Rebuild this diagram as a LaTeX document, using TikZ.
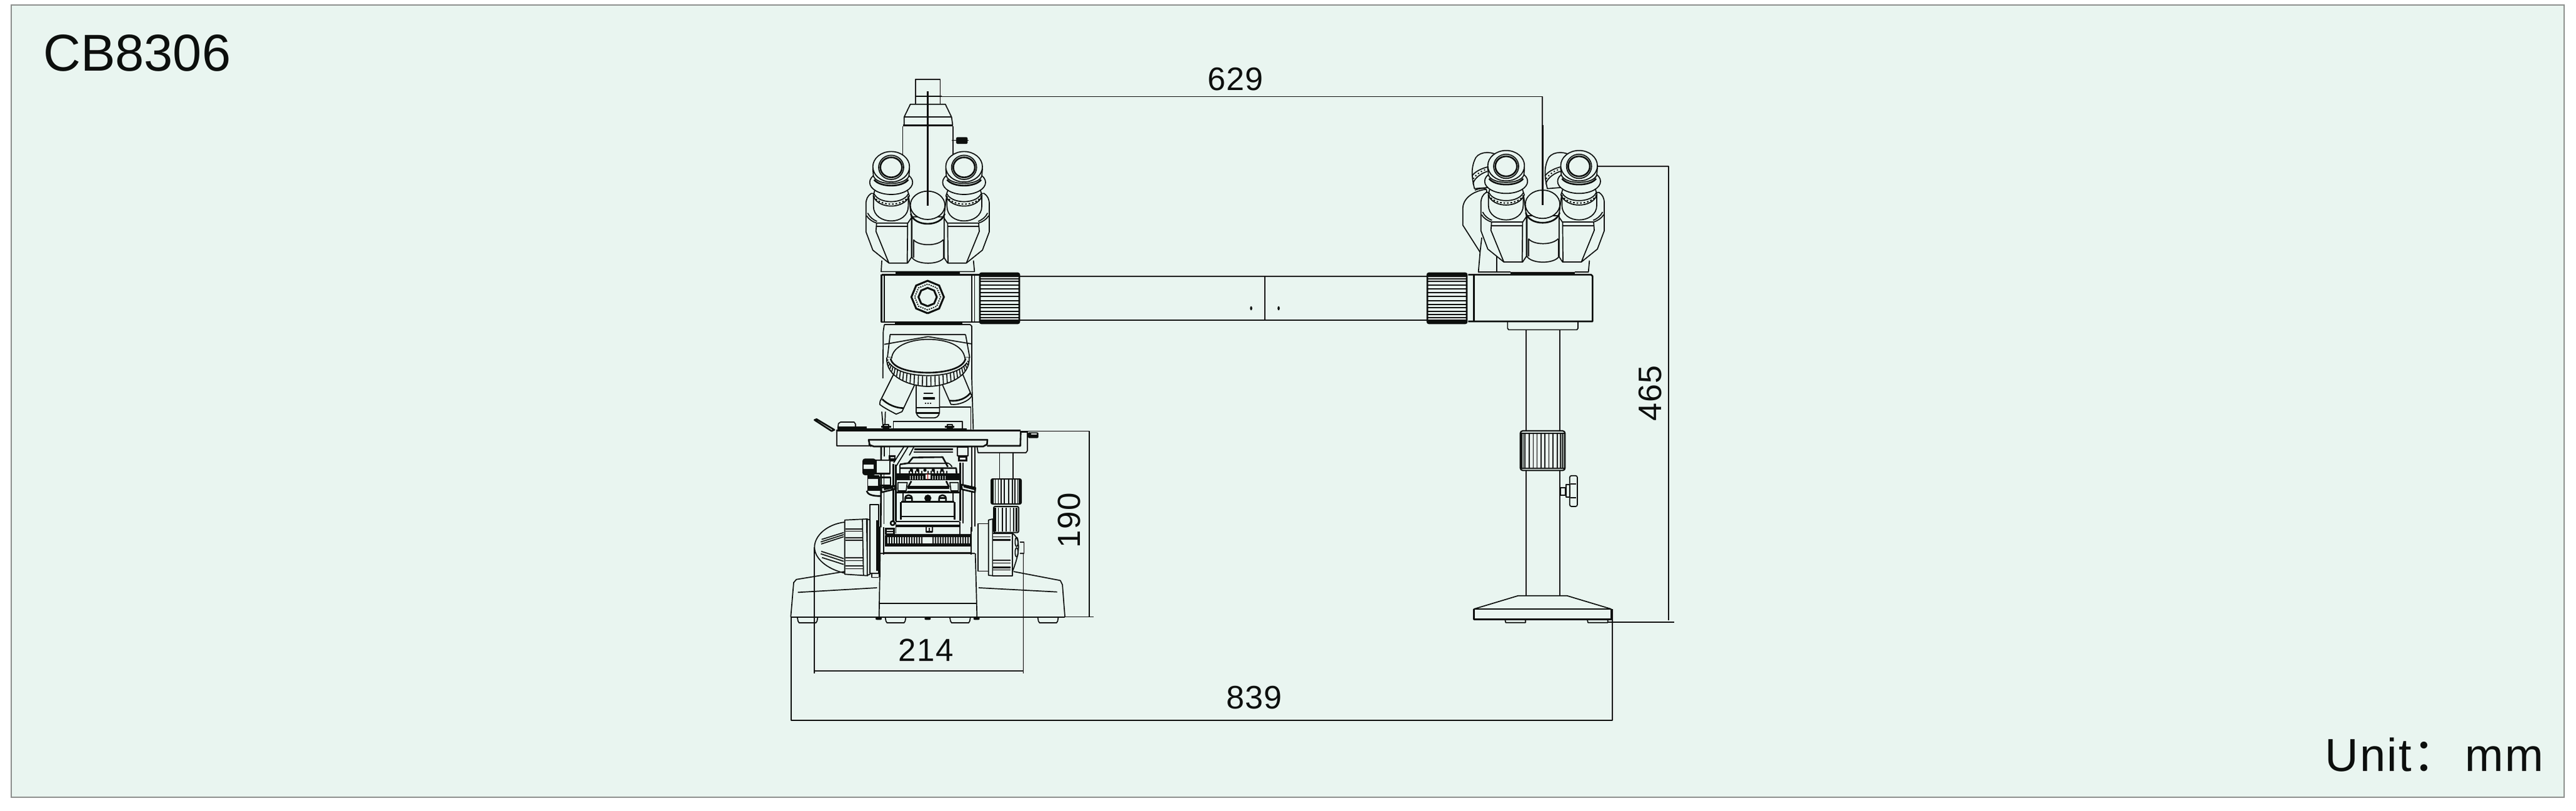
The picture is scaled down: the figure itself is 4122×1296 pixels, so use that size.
\documentclass[tikz,border=0pt]{standalone}
\usepackage{fontspec}
\setmainfont{Liberation Sans}
\newfontfamily\cjkf{Noto Sans CJK SC}
\definecolor{bg}{HTML}{E9F5F0}
\definecolor{edge}{HTML}{8C8F8D}
\definecolor{ink}{HTML}{0C0F0D}
\tikzset{
  zone1/.style={shift={(620pt,-50pt)},x=0.16667pt,y=-0.16667pt},
  zone2/.style={shift={(620pt,-265pt)},x=0.16667pt,y=-0.16667pt},
  zone3/.style={shift={(1150pt,-100pt)},x=0.16667pt,y=-0.16667pt},
  zone4/.style={shift={(1150pt,-250pt)},x=0.16667pt,y=-0.16667pt},
  zone8/.style={shift={(685pt,-350pt)},x=0.16667pt,y=-0.16667pt},
  ln/.style={draw=ink,line width=0.85pt,line join=round},
  hv/.style={draw=ink,line width=1.3pt,line join=round},
  hh/.style={draw=ink,line width=2pt},
  bl/.style={draw=ink,fill=ink,line width=0.5pt,line join=round},
  pf/.style={draw=ink,fill=bg,line width=0.85pt,line join=round},
  dimtext/.style={text=ink,anchor=base,inner sep=0pt,font=\fontsize{26}{26}\selectfont\addfontfeature{LetterSpace=3}},
}
\newcommand{\eyepc}{%
  \path[pf] (462,628) .. controls (445,640) and (437,655) .. (437,680) -- (437,812) -- (470,900) -- (547,962) -- (637,962) -- (655,935) -- (655,740) -- (640,630) -- cycle;
  \draw[ln] (440,735) .. controls (450,752) and (470,765) .. (488,770) -- (638,770) -- (655,745);
  \draw[ln] (445,722) .. controls (455,742) and (472,755) .. (490,762);
  \draw[ln] (488,770) -- (485,810) -- (547,962);
  \draw[ln] (485,787) -- (637,787);
  \draw[ln] (637,770) -- (635,962);
  \path[pf] (473,640) -- (473,690) .. controls (473,735) and (515,760) .. (558,760) .. controls (601,760) and (640,735) .. (640,690) -- (640,640) -- cycle;
  \path[pf] (472,640) .. controls (495,705) and (620,705) .. (645,640) -- (635,610) -- (480,610) -- cycle;
  \draw[ln] (476,630) .. controls (500,680) and (616,680) .. (640,630);
  \draw[ink,line width=1.0pt,dash pattern=on 1.3pt off 1.5pt] (474,641) .. controls (500,692) and (616,692) .. (642,641);
  \path[pf] (558,575) ellipse [x radius=103,y radius=58];
  \path[pf] (470,510) -- (473,545) .. controls (490,592) and (626,592) .. (643,545) -- (646,510) -- cycle;
  \draw[hv] (476,562) .. controls (505,600) and (611,600) .. (640,562);
  \path[pf] (558,500) ellipse [x radius=88,y radius=73];
  \draw[ln] (558,503) ellipse [x radius=60,y radius=58];
  \draw[hv] (558,503) ellipse [x radius=52,y radius=48];
}
\newcommand{\headunit}{%
  \eyepc
  \begin{scope}[shift={(1466,0)},xscale=-1]\eyepc\end{scope}
  \path[pf] (658,740) -- (658,935) .. controls (680,972) and (790,972) .. (812,935) -- (812,740) -- cycle;
  \draw[hv] (652,725) .. controls (668,790) and (798,790) .. (815,725);
  \draw[ln] (665,850) -- (665,935);
  \draw[ln] (808,850) -- (808,935);
  \draw[ln] (665,850) .. controls (690,882) and (780,882) .. (808,850);
  \path[pf] (733,685) ellipse [x radius=83,y radius=68];
}
\newcommand{\armknob}{%
  \draw[hv,fill=bg,rounded corners=1.2pt] (0,0) rectangle (63,80);
  \fill[ink,rounded corners=1pt] (0,0) rectangle (63,6);
  \fill[ink,rounded corners=1pt] (0,74) rectangle (63,80);
  \foreach \h/\w in {9/1.2,13/0.8,19/0.6,25/1.0,31/0.6,37/1.0,44/0.6,50/1.0,55/0.6,61/1.0,66/0.8,71/1.2}{
    \draw[ink,line width=\w pt] (1,\h) -- (62,\h);
  }
}
\begin{document}
\begin{tikzpicture}[x=0.5pt,y=-0.5pt]
\useasboundingbox (0,0) rectangle (4122,1296);
\fill[white] (0,0) rectangle (4122,1296);
\draw[edge,fill=bg,line width=1pt] (18,8) rectangle (4103,1275);
% texts
\node[anchor=base west,inner sep=0pt,text=ink,font=\fontsize{41.5}{41}\selectfont] (title) at (69,113) {CB8306};
\node[anchor=base west,inner sep=0pt,text=ink,font=\fontsize{37}{37}\selectfont\addfontfeature{LetterSpace=3}] (unit) at (3720,1233) {Unit\hspace{1pt}{\cjkf：}\hspace{5pt}mm};
\node[dimtext] (d629) at (1977,144) {629};
\node[dimtext] (d839) at (2007,1133) {839};
\node[dimtext,font=\fontsize{25.5}{26}\selectfont\addfontfeature{LetterSpace=3}] (d214) at (1482,1057) {214};
\node[dimtext,rotate=90,font=\fontsize{25.5}{26}\selectfont\addfontfeature{LetterSpace=3}] (d190) at (1728,832) {190};
\node[dimtext,rotate=90] (d465) at (2658,629) {465};
% dimension lines
\draw[ln] (1492,154.5) -- (2468,154.5) -- (2468,328);
\draw[ln] (2527,266) -- (2670,266) -- (2670,992);
\draw[ln] (2572,995) -- (2679,995);
\draw[ln] (2580,974) -- (2580,1152) -- (1265.7,1152) -- (1265.7,986);
\draw[ln] (1303,875) -- (1303,1077);
\draw[ln] (1637.5,885) -- (1637.5,1077);
\draw[ln] (1303,1072.7) -- (1637.5,1072.7);
\draw[ln] (1633,689.5) -- (1743,689.5) -- (1743,986);
\draw[ln] (1703,986.5) -- (1750,986.5);
% left head
\begin{scope}[zone1]
  \draw[ln] (675,197) -- (675,80) -- (793,80) -- (793,197);
  \draw[ln] (675,163) -- (800,163);
  \draw[ln] (620,298) -- (620,262) -- (650,200) -- (818,200) -- (848,262) -- (853,298);
  \draw[ln] (620,262) -- (848,262);
  \draw[hv] (615,301) -- (855,301);
  \draw[ln] (613,305) -- (613,450);
  \draw[ln] (855,305) -- (855,450);
  \draw[bl] (850,373) -- (930,373);
  \fill[ink,rounded corners=1pt] (870,358) rectangle (925,390);
  \headunit
  \draw[hv] (733,138) -- (733,688);
  \draw[ln] (513,950) -- (510,1003) -- (958,1003) -- (953,950);
  \draw[hh] (580,1012) -- (888,1012);
  \draw[hv] (512,1018) -- (980,1018);
  \draw[hv] (512,1018) -- (512,1245) -- (980,1245);
  \draw[ln] (525,1018) -- (525,1245);
  \draw[hv] (945,1018) -- (945,1245);
  \draw[ln] (958,1018) -- (958,1245);
  \draw[line width=1.5pt,ink] plot[samples at={0,45,...,360}] ({733+78*cos(\x+90)},{1125+78*sin(\x+90)});
  \draw[ink,line width=0.9pt,dash pattern=on 1pt off 0.8pt] plot[samples at={0,45,...,360}] ({733+62*cos(\x+90)},{1125+62*sin(\x+90)});
  \draw[line width=1.5pt,ink] plot[samples at={0,45,...,360}] ({733+44*cos(\x+90)},{1125+44*sin(\x+90)});
\end{scope}
% right head
\begin{scope}[zone3]
  \path[pf] (178,305) .. controls (170,270) and (158,220) .. (178,170) .. controls (190,128) and (250,122) .. (290,145) -- (240,300) -- cycle;
  \draw[ln] (166,245) .. controls (178,225) and (210,208) .. (245,200);
  \draw[ln] (172,285) .. controls (170,265) and (200,235) .. (240,222);
  \draw[ink,line width=1pt,dash pattern=on 1pt off 1.8pt] (172,258) .. controls (190,232) and (215,218) .. (242,210);
  \path[pf] (528,305) .. controls (520,270) and (508,220) .. (528,170) .. controls (540,128) and (600,122) .. (640,145) -- (590,300) -- cycle;
  \draw[ln] (516,245) .. controls (528,225) and (560,208) .. (595,200);
  \draw[ln] (522,285) .. controls (520,265) and (550,235) .. (590,222);
  \draw[ink,line width=1pt,dash pattern=on 1pt off 1.8pt] (522,258) .. controls (540,232) and (565,218) .. (592,210);
  \path[pf] (235,308) .. controls (160,318) and (122,360) .. (122,400) -- (122,480) -- (205,610) -- (197,705) -- (285,705) -- (285,600) -- cycle;
  \draw[ln] (180,312) .. controls (200,304) and (215,304) .. (232,303);
  \draw[ln] (213,540) -- (205,610);
  \draw[ln] (285,650) -- (285,705) -- (350,705);
  \draw[ln] (730,650) -- (725,705) -- (660,705);
\end{scope}
\begin{scope}[zone1,shift={(2952,-5)}]
  \headunit
\end{scope}
\begin{scope}[zone3]
  \draw[hv] (505,0) -- (505,385);
  \draw[hh] (352,710) -- (660,710);
  \draw[hv] (148,718) -- (738,718) -- (745,725) -- (745,942) -- (148,942);
  \draw[hv] (175,718) -- (175,942);
  \draw[ln] (337,945) -- (337,975) -- (342,982) -- (670,982) -- (675,975) -- (675,945);
\end{scope}
% right column
\begin{scope}[zone4]
  \draw[ln] (425,82) -- (425,570);
  \draw[ln] (588,82) -- (588,570);
  \draw[ln] (425,755) -- (425,1358);
  \draw[ln] (588,755) -- (588,1358);
  \draw[pf,line width=1.1pt,rounded corners=2pt] (398,567) rectangle (613,757);
  \foreach \v in {405,412,420,440,460,478,497,515,535,555,575,590,600,607}{\draw[ln] (\v,575) -- (\v,748);}
  \draw[ink,line width=0.9pt] (400,578) -- (611,578);
  \draw[ink,line width=0.9pt] (400,746) -- (611,746);
  \draw[ln] (590,840) rectangle (615,875);
  \draw[ln] (617,825) rectangle (635,885);
  \draw[ln,rounded corners=1.5pt] (635,782) rectangle (672,930);
  \draw[ln] (640,822) -- (665,822);
  \draw[ln] (640,888) -- (665,888);
  \draw[ln] (175,1422) -- (388,1358) -- (622,1358) -- (835,1422);
  \draw[ln] (175,1422) -- (835,1422);
  \draw[hv] (175,1422) -- (175,1472) -- (835,1472) -- (835,1422);
  \draw[ln] (325,1474) -- (328,1487) -- (423,1487) -- (423,1474);
  \draw[ln] (720,1474) -- (723,1487) -- (818,1487) -- (818,1474);
\end{scope}
% arm
\draw[ln] (1630,441.8) -- (2285,441.8);
\draw[ln] (1630,512) -- (2285,512);
\draw[ln] (2024,441.8) -- (2024,512);
\fill[ink] (2002,493) ellipse [x radius=1.8,y radius=3.3];
\fill[ink] (2046,493) ellipse [x radius=1.8,y radius=3.3];
\begin{scope}[shift={(1568,437)}]\armknob\end{scope}
\begin{scope}[shift={(2284,437)}]\armknob\end{scope}
% microscope body, upper
\begin{scope}[zone2]
  \draw[hv] (575,-41) -- (900,-41);
  \draw[ln] (520,470) -- (513,385);
  \draw[ln] (530,385) -- (528,450);
  \draw[ln] (525,-32) -- (938,-32);
  \draw[ln] (525,-32) -- (520,0) -- (518,225);
  \draw[ln] (938,-32) -- (945,-25) -- (945,225);
  \draw[ln] (945,225) -- (952,470);
  \draw[ln] (790,362) -- (940,362) -- (940,470);
  \draw[ln] (568,465) -- (568,432) -- (900,432) -- (900,465);
  \draw[ln] (525,62) -- (735,25) -- (945,60);
  \draw[ln] (553,15) -- (915,15);
  \draw[ln] (553,15) -- (540,125) -- (565,125);
  \draw[ln] (915,15) -- (935,125) -- (905,125);
  \path[pf] (575,195) -- (505,335) -- (503,350) .. controls (520,365) and (560,385) .. (582,397) -- (610,385) -- (680,236) -- cycle;
  \draw[hv] (515,325) .. controls (540,350) and (580,368) .. (618,368);
  \path[pf] (895,190) -- (945,310) .. controls (930,335) and (880,355) .. (845,350) -- (795,235) -- cycle;
  \draw[hv] (938,295) .. controls (920,320) and (880,338) .. (838,332);
  \path[pf] (678,240) -- (678,390) .. controls (685,410) and (695,415) .. (710,415) -- (760,415) .. controls (775,415) and (785,410) .. (790,390) -- (790,240) -- cycle;
  \draw[ln] (678,365) -- (790,365);
  \draw[hv] (680,392) -- (788,392);
  \draw[ink,line width=1pt] (715,298) -- (758,298);
  \draw[ink,line width=2pt] (712,322) -- (768,322);
  \draw[ink,line width=.9pt,dash pattern=on 1pt off 1pt] (720,345) -- (752,345);
  \fill[bg] (537,125) .. controls (530,220) and (650,264) .. (735,264) .. controls (820,264) and (940,220) .. (932,125) -- cycle;
  \draw[ln] (537,125) .. controls (530,220) and (650,264) .. (735,264) .. controls (820,264) and (940,220) .. (932,125);
  \fill[bg] (560,130) .. controls (565,65) and (660,38) .. (735,38) .. controls (820,38) and (905,65) .. (912,130) -- cycle;
  \draw[ln] (560,130) .. controls (565,65) and (660,38) .. (735,38) .. controls (820,38) and (905,65) .. (912,130);
  \draw[hv] (555,130) .. controls (565,180) and (660,198) .. (735,198) .. controls (810,198) and (905,180) .. (915,130);
  \draw[ln] (548,150) .. controls (580,195) and (660,212) .. (735,212) .. controls (810,212) and (890,195) .. (922,150);
  \foreach \t in {8,14,...,176}{
    \draw[ink,line width=0.8pt] ({735+191*cos(\t)},{130+85*sin(\t)}) -- ({735+197*cos(\t)},{130+132*sin(\t)});
  }
  \draw[hv] (510,458) -- (558,458);
  \draw[hv] (815,458) -- (862,458);
  \draw[ln] (522,448) rectangle (546,466);
  \draw[ln] (827,448) rectangle (851,466);
  \draw[hv] (300,468) -- (920,468);
  \draw[hv] (190,425) -- (200,421) -- (285,472) -- (272,478) -- cycle;
  \draw[ln] (302,465) -- (305,442) -- (315,435) -- (380,435) -- (387,445) -- (387,462);
  \draw[hv] (302,460) -- (440,460);
  % stage
  \draw[hv] (295,476) -- (1180,476);
  \draw[ln] (297,476) -- (297,548) -- (455,548);
  \draw[hv] (1180,478) -- (1178,549) -- (1018,549);
  \draw[ln] (1212,480) -- (1212,572) -- (1205,582) -- (975,582) -- (970,552);
  \draw[ln] (1180,482) -- (1210,482);
  \fill[ink,rounded corners=1pt] (1215,484) rectangle (1265,512);
  \fill[bg] (1230,490) rectangle (1258,496);
  \draw[ln] (1078,585) -- (1078,708);
  \draw[ln] (1143,585) -- (1143,708);
  % coarse knobs
  \draw[pf,line width=1pt,rounded corners=1.2pt] (1038,708) rectangle (1182,828);
  \foreach \v/\w in {1046/1.4,1058/.8,1072/.8,1086/.8,1100/1.1,1122/.8,1140/.8,1152/1.1,1165/.8,1174/1.4}{\draw[ink,line width=\w pt] (\v,712) -- (\v,824);}
  \draw[pf,line width=1pt,rounded corners=1.2pt] (1050,840) rectangle (1170,965);
  \foreach \v/\w in {1058/1.4,1072/.8,1092/.8,1110/.7,1130/.8,1146/.8,1160/1.4}{\draw[ink,line width=\w pt] (\v,845) -- (\v,960);}
  % left big knob
  \path[pf] (335,915) .. controls (250,925) and (190,980) .. (190,1035) .. controls (190,1090) and (250,1140) .. (335,1160) -- cycle;
  \foreach \a/\b/\c in {222/1020/985,220/1010/975,224/998/965}{\draw[ln] (\a,\b) -- (330,\c);}
  \foreach \a/\b/\c in {222/1055/1090,220/1067/1103,226/1085/1118}{\draw[ln] (\a,\b) -- (330,\c);}
  \path[pf] (335,905) -- (440,900) -- (445,1172) -- (335,1165) -- cycle;
  \draw[ln] (420,901) -- (425,1170);
  \foreach \h/\w in {948/1.2,958/.7,990/1.0,1002/.7,1085/1.0,1100/.7,1125/1.2,1138/.7}{\draw[ink,line width=\w pt] (338,\h) -- (422,\h);}
  \path[pf] (443,900) -- (457,905) -- (457,1165) -- (443,1170) -- cycle;
  \draw[ln] (455,830) -- (497,830) -- (497,1160) -- (455,1160) -- cycle;
  \draw[hv] (490,905) -- (490,1150);
  \draw[hv] (503,935) -- (503,1180);
  \draw[ln] (465,1162) -- (465,1180) -- (497,1180);
  % right knob
  \draw[pf] (975,922) -- (1025,922) -- (1025,1150) -- (975,1150) -- cycle;
  \path[pf] (1025,905) -- (1045,900) -- (1045,1172) -- (1025,1170) -- cycle;
  \draw[ln] (1140,968) .. controls (1172,990) and (1185,1040) .. (1140,1152);
  \draw[ln] (1175,1010) -- (1195,1010) -- (1195,1065) -- (1175,1065);
  \path[pf] (1045,968) -- (1140,968) -- (1140,1172) -- (1045,1172) -- cycle;
  \foreach \h/\w in {985/.8,1000/1.2,1098/.9,1112/.7,1132/1.2,1145/.7}{\draw[ink,line width=\w pt] (1048,\h) -- (1132,\h);}
  \foreach \h in {1010,1060}{\draw[ln] (1160,\h) ellipse [x radius=7,y radius=22];}
  % base
  \draw[ln] (76,1370) -- (90,1205) -- (103,1190) -- (335,1152);
  \draw[ln] (1145,1152) -- (1370,1195) -- (1380,1215) -- (1392,1370);
  \draw[ln] (110,1252) -- (490,1230);
  \draw[ln] (978,1230) -- (1355,1250);
  \draw[ln] (76,1370) -- (1392,1370);
  \draw[ln] (505,1065) -- (960,1065);
  \draw[ln] (505,1065) -- (500,1370);
  \draw[ln] (962,1065) -- (970,1370);
  \draw[ln] (503,1305) -- (965,1305);
  \foreach \a/\b in {108/205,530/628,840/938,1262/1360}{
    \draw[ln] (\a,1374) -- (\a+3,1390) -- (\a+8,1398) -- (\b-8,1398) -- (\b-3,1390) -- (\b,1374);
  }
  \foreach \c in {498,733,968}{\fill[ink,rounded corners=1pt] (\c-15,1372) rectangle (\c+15,1384);}
\end{scope}
% stage mechanism
\begin{scope}[zone8]
  \draw[hv] (120,42) -- (118,430);
  \draw[ln] (135,42) -- (135,90);
  \draw[ln] (133,175) -- (133,415);
  \draw[ln] (555,40) -- (555,450);
  \draw[ln] (570,40) -- (570,425);
  \draw[hv,fill=bg] (60,10) -- (630,10) -- (628,32) -- (610,42) -- (85,42) -- (65,35) -- cycle;
  \draw[ln] (60,30) -- (72,43);
  \draw[ln] (160,42) -- (160,90);
  \draw[hv] (178,125) -- (178,400);
  \draw[hv] (190,130) -- (190,400);
  \draw[hv] (500,120) -- (500,400);
  \draw[ln] (512,120) -- (512,410);
  \draw[ln] (180,120) -- (230,42);
  \draw[ln] (190,140) -- (250,42);
  \draw[ln] (255,85) -- (278,42);
  \draw[hv] (280,55) -- (465,55);
  \draw[ln] (275,68) -- (465,68);
  \draw[hv] (210,128) -- (250,122) -- (272,95) -- (415,93) -- (440,140);
  \draw[ln] (250,122) -- (440,122);
  \draw[ln] (430,120) .. controls (445,120) and (455,130) .. (460,140);
  \draw[ln] (210,128) -- (210,172);
  \draw[hv] (210,146) -- (480,146) -- (482,172);
  \fill[ink] (155,85) rectangle (190,115);
  \fill[bg] (165,92) rectangle (182,100);
  \fill[ink] (490,88) rectangle (535,115);
  \fill[bg] (498,95) rectangle (525,104);
  \draw[ln] (485,45) rectangle (537,88);
  \foreach \v in {265,295,330,370,412}{\fill[ink] (\v,156) circle [radius=8];}
  \foreach \v in {255,270,285,300,315,345,360,375,390,405,420,435}{\draw[ink,line width=.8pt] (\v,160) -- (\v,172);}
  % scale bar
  \fill[ink] (190,172) rectangle (495,205);
  \foreach \v in {258,270,...,322,366,378,...,434}{\draw[bg,line width=.5pt] (\v,184) -- (\v,200);}
  \fill[bg] (332,178) rectangle (356,197);
  \fill[red!75!black] (341.5,172) rectangle (345.5,202);
  % under bar
  \draw[hv] (265,208) -- (250,235) -- (445,235) -- (432,208);
  \draw[hv] (245,242) -- (447,242);
  \draw[hv] (245,258) -- (447,258);
  \draw[ln] (200,215) -- (245,215) -- (240,255) -- (200,255) -- cycle;
  \draw[ln] (450,215) -- (490,215) -- (490,255) -- (455,255) -- cycle;
  \draw[hv] (190,262) -- (500,262);
  \draw[ln] (225,262) -- (225,305);
  \draw[ln] (465,262) -- (465,305);
  \draw[hv] (235,305) -- (235,292) .. controls (235,270) and (268,270) .. (268,292) -- (268,305);
  \draw[hv] (238,290) -- (265,290);
  \fill[ink] (344,290) circle [radius=17];
  \draw[hv] (398,305) -- (398,292) .. controls (398,270) and (431,270) .. (431,292) -- (431,305);
  \draw[hv] (400,290) -- (429,290);
  \draw[hv] (215,308) -- (472,308);
  \draw[hv] (215,308) -- (215,392);
  \draw[hv] (472,308) -- (472,392);
  \draw[hv] (215,378) -- (472,378);
  \draw[hv] (190,402) -- (495,402);
  \draw[hh] (190,423) -- (495,423);
  \draw[ln] (190,402) -- (190,460);
  \draw[ln] (498,402) -- (498,465);
  \draw[hv,fill=bg] (175,410) circle [radius=10];
  \draw[hv] (336,430) -- (336,452) -- (366,452) -- (366,430);
  \draw[ln] (350,432) -- (350,448);
  \fill[ink] (138,432) rectangle (185,465);
  \fill[bg] (148,440) rectangle (176,448);
  \fill[bg] (148,454) rectangle (176,459);
  % focus ring
  \draw[hh] (140,468) -- (548,468);
  \fill[ink] (138,468) rectangle (550,522);
  \fill[bg] (322,476) rectangle (365,506);
  \foreach \v in {150,162,...,318,372,384,...,540}{\fill[bg] (\v,476) rectangle (\v+6,506);}
  \draw[ln] (132,430) -- (132,560);
  \draw[ln] (552,430) -- (552,560);
  \draw[ln] (132,552) -- (552,552);
  % side knob
  \fill[ink,rounded corners=2pt] (30,100) rectangle (95,180);
  \fill[bg] (36,130) rectangle (85,150);
  \draw[hv,fill=bg] (95,108) rectangle (162,172);
  \draw[ln] (55,190) -- (55,250);
  \fill[ink] (55,180) rectangle (110,198);
  \draw[hv] (110,190) rectangle (165,230);
  \fill[ink] (55,230) rectangle (120,255);
  \draw[hv] (50,255) .. controls (55,272) and (75,280) .. (118,280);
  \draw[hv,fill=bg] (120,240) -- (190,230) -- (192,245) -- (122,262) -- cycle;
  \fill[ink] (132,240) -- (190,230) -- (192,240) -- (134,252) -- cycle;
  \draw[hv,fill=bg] (180,240) circle [radius=7];
  \draw[hv,fill=bg] (505,225) -- (572,240) -- (570,262) -- (508,248) -- cycle;
  \fill[ink] (515,225) -- (572,240) -- (570,252) -- (515,238) -- cycle;
\end{scope}
\end{tikzpicture}
\end{document}
